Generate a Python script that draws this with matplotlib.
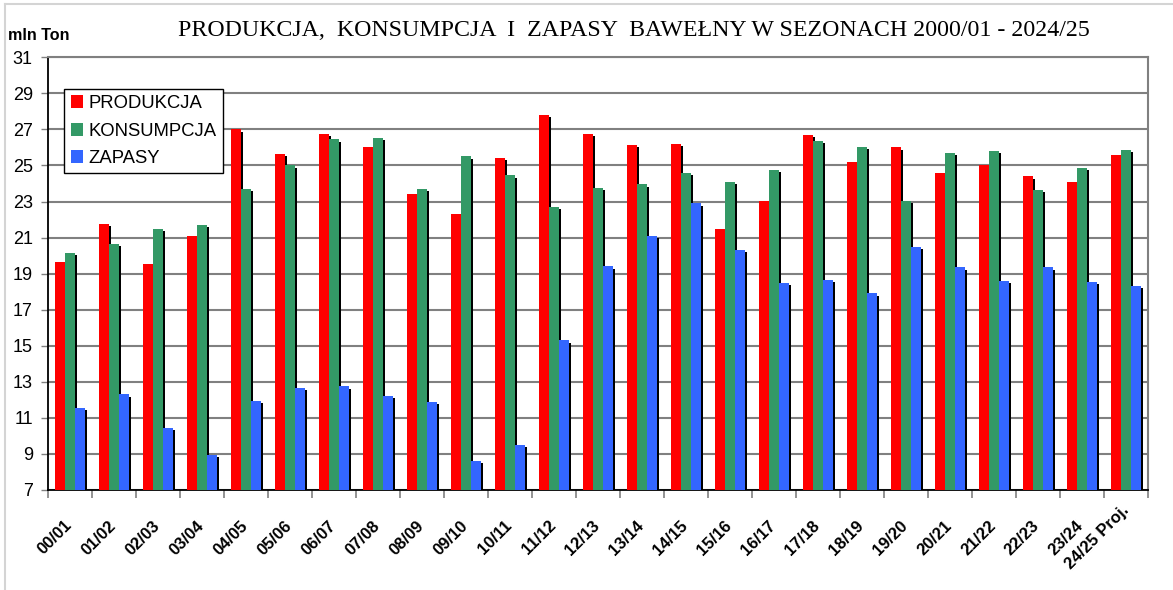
import numpy as np
import matplotlib
matplotlib.use("Agg")
import matplotlib.pyplot as plt
import matplotlib.patheffects as pe
from matplotlib.lines import Line2D
from matplotlib.transforms import ScaledTranslation

# dane (mln ton)
sezony = ["00/01", "01/02", "02/03", "03/04", "04/05", "05/06", "06/07", "07/08",
          "08/09", "09/10", "10/11", "11/12", "12/13", "13/14", "14/15", "15/16",
          "16/17", "17/18", "18/19", "19/20", "20/21", "21/22", "22/23", "23/24",
          "24/25 Proj."]
produkcja = [19.65, 21.75, 19.55, 21.1, 27.0, 25.65, 26.75, 26.05,
             23.4, 22.3, 25.4, 27.8, 26.75, 26.15, 26.2, 21.5,
             23.05, 26.7, 25.2, 26.0, 24.6, 25.0, 24.4, 24.1, 25.6]
konsumpcja = [20.15, 20.65, 21.5, 21.7, 23.7, 25.0, 26.45, 26.55,
              23.7, 25.5, 24.45, 22.7, 23.75, 23.95, 24.6, 24.1,
              24.75, 26.35, 26.05, 23.05, 25.7, 25.8, 23.65, 24.85, 25.85]
zapasy = [11.55, 12.3, 10.45, 8.95, 11.95, 12.65, 12.75, 12.2,
          11.9, 8.6, 9.5, 15.3, 19.4, 21.1, 22.9, 20.3,
          18.5, 18.65, 17.9, 20.5, 19.35, 18.6, 19.35, 18.55, 18.3]

serie = [("PRODUKCJA", produkcja, "#FF0000"),
         ("KONSUMPCJA", konsumpcja, "#339966"),
         ("ZAPASY", zapasy, "#3366FF")]

plt.rcParams["font.family"] = ["Liberation Sans", "DejaVu Sans"]

fig = plt.figure(figsize=(11.73, 5.90), dpi=100)
ax = fig.add_axes([0.041, 0.1695, 0.9375, 0.7334])

x = np.arange(len(sezony))
szer = 0.227
cien = [pe.SimplePatchShadow(offset=(1.6, -1.6), shadow_rgbFace="black", alpha=1.0), pe.Normal()]
bazowa = 7
for i, (nazwa, wart, kolor) in enumerate(serie):
    h = np.array(wart) - bazowa
    ax.bar(x + (i - 1) * szer, h, width=szer, bottom=bazowa, color=kolor,
           label=nazwa, zorder=3, path_effects=cien, linewidth=0)

ax.set_xlim(-0.5, len(sezony) - 0.5)
ax.set_ylim(7, 31)
ax.set_yticks(np.arange(7, 32, 2))
ax.yaxis.grid(True, color="#808080", linewidth=1.5, zorder=0)
ax.tick_params(axis="y", labelsize=13, length=5, width=1, color="#808080", pad=6)

ax.set_xticks(x)
ax.set_xticklabels(sezony, rotation=45, ha="right", rotation_mode="anchor",
                   fontweight="bold", fontsize=12)
ax.tick_params(axis="x", which="major", length=0, pad=20)
ax.set_xticks(np.arange(-0.5, len(sezony), 1), minor=True)
ax.tick_params(axis="x", which="minor", length=6, width=1.2, color="#808080")
etykiety = ax.get_xticklabels()
for t in etykiety[:-1]:
    t.set_transform(t.get_transform() + ScaledTranslation(-0.06, 0, fig.dpi_scale_trans))
# ostatnia (dluzsza) etykieta siedzi w oryginale nieco wyzej
etykiety[-1].set_transform(etykiety[-1].get_transform() + ScaledTranslation(-0.05, 0.15, fig.dpi_scale_trans))

ax.spines["left"].set_color("black")
ax.spines["bottom"].set_color("black")
ax.spines["left"].set_linewidth(1.3)
ax.spines["bottom"].set_linewidth(1.3)
ax.spines["top"].set_color("#808080")
ax.spines["right"].set_color("#808080")
ax.spines["top"].set_linewidth(1.5)
ax.spines["right"].set_linewidth(1.5)

leg = ax.legend(loc="upper left", bbox_to_anchor=(0.0145, 0.927), borderaxespad=0,
                fontsize=13.3, frameon=True, fancybox=False, handlelength=0.7,
                handleheight=0.7, handletextpad=0.25, labelspacing=0.55,
                borderpad=0.35, framealpha=1)
leg.get_frame().set_edgecolor("black")
leg.get_frame().set_linewidth(1)
for h in leg.legend_handles:
    h.set_path_effects([])

fig.text(0.54, 1 - 31 / 590, "PRODUKCJA,  KONSUMPCJA  I  ZAPASY  BAWEŁNY W SEZONACH 2000/01 - 2024/25",
         ha="center", va="center", fontsize=17.2, family="Liberation Serif")
fig.text(8 / 1173, 1 - 35 / 590, "mln Ton", ha="left", va="center",
         fontsize=11.6, fontweight="bold")

# jasna ramka obrazu (lewa i gorna krawedz)
fig.add_artist(Line2D([5 / 1173, 5 / 1173], [0, 1 - 4 / 590], transform=fig.transFigure,
                      color="#d4d4d4", linewidth=1.5))
fig.add_artist(Line2D([5 / 1173, 1], [1 - 4 / 590, 1 - 4 / 590], transform=fig.transFigure,
                      color="#d4d4d4", linewidth=1.5))

fig.savefig("out.png", dpi=100)
